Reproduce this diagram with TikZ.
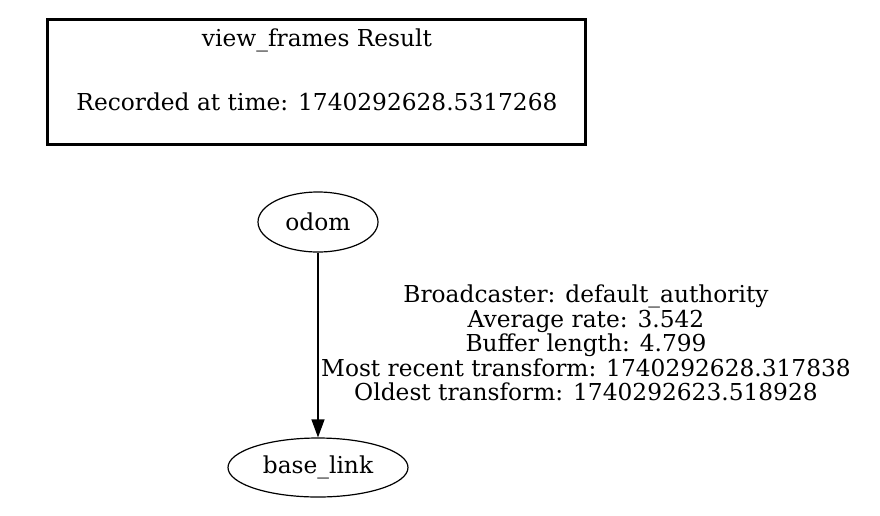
\documentclass[tikz,border=0pt]{standalone}
\usepackage{fontspec}
\setmainfont{DejaVu Serif}
\usetikzlibrary{shapes.geometric,arrows.meta}
\begin{document}
\begin{tikzpicture}[x=1pt,y=-1pt,
  txt/.style={font=\fontsize{23.3}{24.5}\selectfont, inner sep=0pt},
  frame/.style={ellipse, draw, line width=1.2pt, inner sep=0pt, font=\fontsize{23.3}{24.5}\selectfont},
  tf/.style={draw, -{Triangle[length=18pt,width=13pt]}, line width=1.2pt}]
\useasboundingbox (0,0) rectangle (880,515);
\node[draw, line width=2.4pt, minimum width=538pt, minimum height=125pt, inner sep=0pt] (box) at (316.5,82) {};
\node[txt, align=center, font=\fontsize{23.3}{32}\selectfont] (title) at (317,70) {view\_frames Result\\[32pt]Recorded at time: 1740292628.5317268};
\node[frame, minimum width=120pt, minimum height=60pt] (odom) at (318,222) {odom};
\node[frame, minimum width=180pt, minimum height=59pt] (base) at (318,467.5) {base\_link};
\draw[tf] (odom) -- (base);
\node[txt, align=center] (lbl) at (586,343) {Broadcaster: default\_authority\\Average rate: 3.542\\Buffer length: 4.799\\Most recent transform: 1740292628.317838\\Oldest transform: 1740292623.518928};
\end{tikzpicture}
\end{document}
